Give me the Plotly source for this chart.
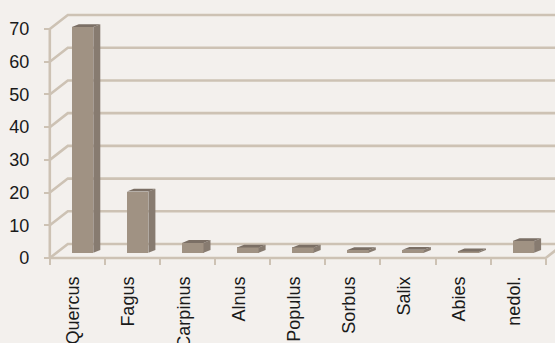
import plotly.graph_objects as go

# Taxa and their share (%)
taxa = ["Quercus", "Fagus", "Carpinus", "Alnus", "Populus", "Sorbus", "Salix", "Abies", "nedol."]
shares = [69.0, 18.7, 3.0, 1.6, 1.6, 0.8, 0.9, 0.4, 3.6]
y_ticks = [0, 10, 20, 30, 40, 50, 60, 70]

W, H = 555, 343
ML, MR, MT, MB = 44, 0, 12, 81
SLOT_PX = 55.1          # pixels per category
UNIT_PX = 3.271         # pixels per value unit
AXIS_PX = 49.8          # front value-axis x position
FLOOR_PX = 258          # value 0 on front plane

plot_w = W - ML - MR
plot_h = H - MT - MB
x_min = (ML - AXIS_PX) / SLOT_PX - 0.5
x_max = (W - MR - AXIS_PX) / SLOT_PX - 0.5
y_min = -((H - MB) - FLOOR_PX) / UNIT_PX
y_max = (FLOOR_PX - MT) / UNIT_PX

# Oblique depth of the walls and of the boxes
wall_dx, wall_dy = 18 / SLOT_PX, 14 / UNIT_PX
box_dx, box_dy = 7 / SLOT_PX, 2.8 / UNIT_PX
bar_shift = 5.2 / SLOT_PX
bar_w = 21.5 / SLOT_PX
bar_base = 1.62

BG = "#f3f0ed"
GRID = "#cdc2b4"
FRONT = "#a09283"
SIDE = "#877b70"
TOP = "#7b6f65"
FONT = "Liberation Sans, Arial, sans-serif"

n = len(taxa)
x_left = -0.5
x_right = n - 0.5
x_far = x_max + 2

fig = go.Figure()

# Walls: back gridlines, left side diagonals, floor edges and front axis (beneath the boxes)
def wall_path(points):
    return "M " + " L ".join(f"{px},{py}" for px, py in points)

wall_style = dict(type="path", xref="x", yref="y", layer="below",
                  line=dict(color=GRID, width=2.6))
for v in y_ticks:
    fig.add_shape(path=wall_path([(x_left, v), (x_left + wall_dx, v + wall_dy),
                                  (x_far, v + wall_dy)]), **wall_style)
fig.add_shape(path=wall_path([(x_left, 0), (x_right, 0),
                              (x_right + wall_dx, wall_dy)]), **wall_style)
fig.add_shape(path=wall_path([(x_left, 0), (x_left, y_ticks[-1])]), **wall_style)

# Box front faces
centers = list(range(n))
fig.add_trace(go.Bar(x=[c + bar_shift for c in centers], y=shares,
                     base=[bar_base] * n, width=bar_w,
                     marker=dict(color=FRONT, line=dict(width=0)),
                     showlegend=False, hoverinfo="x+y"))

# Box side and top faces
sx, sy, tx, ty = [], [], [], []
for i, v in enumerate(shares):
    xl = centers[i] + bar_shift - bar_w / 2
    xr = centers[i] + bar_shift + bar_w / 2
    y0 = bar_base
    y1 = bar_base + v
    sx += [xr, xr, xr + box_dx, xr + box_dx, xr, None]
    sy += [y0, y1, y1 + box_dy, y0 + box_dy, y0, None]
    tx += [xl, xr, xr + box_dx, xl + box_dx, xl, None]
    ty += [y1, y1, y1 + box_dy, y1 + box_dy, y1, None]

fig.add_trace(go.Scatter(x=sx, y=sy, mode="lines", fill="toself",
                         fillcolor=SIDE, line=dict(width=0, color=SIDE),
                         hoverinfo="skip", showlegend=False))
fig.add_trace(go.Scatter(x=tx, y=ty, mode="lines", fill="toself",
                         fillcolor=TOP, line=dict(width=0, color=TOP),
                         hoverinfo="skip", showlegend=False))

# Category boundary ticks on the front floor edge
fig.add_trace(go.Scatter(x=[x_left, x_right], y=[None, None], xaxis="x2",
                         showlegend=False, hoverinfo="skip"))

fig.update_layout(
    width=W, height=H,
    margin=dict(l=ML, r=MR, t=MT, b=MB, pad=0, autoexpand=False),
    paper_bgcolor=BG, plot_bgcolor=BG,
    font=dict(family=FONT, size=18, color="#1a1a1a"),
    xaxis=dict(range=[x_min, x_max], tickvals=[c - 0.07 for c in centers], ticktext=taxa,
               tickangle=-90, ticks="", showgrid=False, zeroline=False,
               showline=False, ticklabelstandoff=10, automargin=False,
               tickfont=dict(family=FONT, size=18, color="#1a1a1a")),
    xaxis2=dict(range=[x_min, x_max], overlaying="x", anchor="free",
                position=((H - MB) - FLOOR_PX) / plot_h, side="bottom",
                tickvals=[i - 0.5 for i in range(n + 1)], showticklabels=False,
                ticks="outside", ticklen=6, tickwidth=2, tickcolor=GRID,
                showgrid=False, zeroline=False, showline=False, automargin=False),
    yaxis=dict(range=[y_min, y_max], tickvals=y_ticks, anchor="free",
               position=(AXIS_PX - ML) / plot_w, side="left",
               ticks="outside", ticklen=6, tickwidth=2, tickcolor=GRID,
               showgrid=False, zeroline=False, showline=False,
               ticklabelstandoff=11, automargin=False,
               tickfont=dict(family=FONT, size=18, color="#1a1a1a")),
    bargap=0,
)

# Chart title (sits above the visible page)
fig.add_annotation(text="<b>Anthracology</b>", xref="paper", yref="paper",
                   x=(256 - ML) / plot_w, y=1, xanchor="right", yanchor="bottom",
                   yshift=16, showarrow=False,
                   font=dict(family=FONT, size=18, color="#1a1a1a"))

fig.write_html("out.html")
